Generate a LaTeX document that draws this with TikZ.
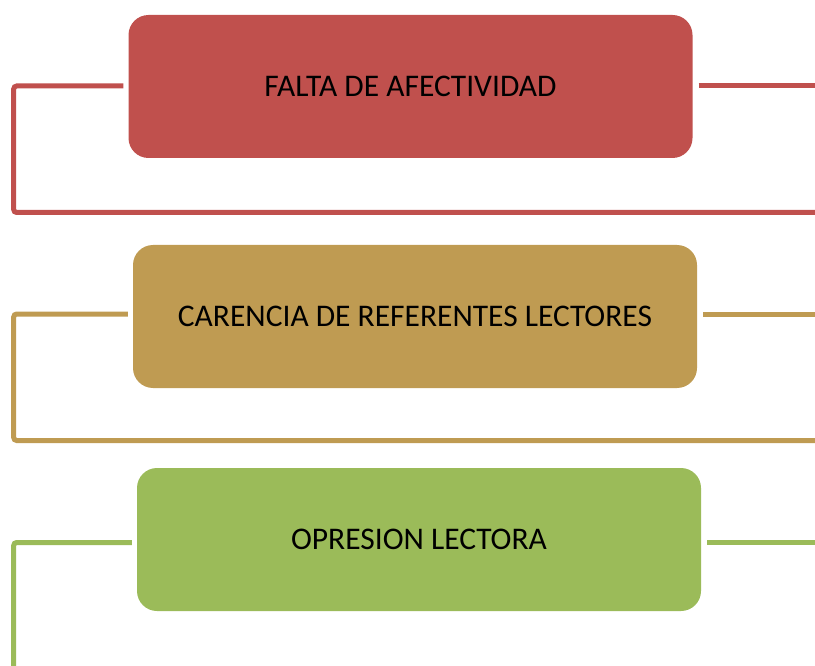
\documentclass[tikz,border=0pt]{standalone}
\usepackage{fontspec}
\setmainfont{Carlito}
\usepackage{xcolor}
\usetikzlibrary{positioning}

\definecolor{redBox}{HTML}{C0504D}
\definecolor{goldBox}{HTML}{BF9B52}
\definecolor{greenBox}{HTML}{9BBB59}

\begin{document}
\begin{tikzpicture}[x=1pt, y=-1pt]
        \tikzset{BoxStyle/.style={rounded corners=20pt, minimum width=564pt,
                   minimum height=143pt, inner sep=0pt, font=\fontsize{31.5}{36}\selectfont},
                 LineStyle/.style={line width=5pt, rounded corners=3pt}}   % connector lines

        \useasboundingbox (0,0) rectangle (815,666);

        \node[BoxStyle, fill=redBox]   (afect) at (410.5,86.5) {FALTA DE AFECTIVIDAD};
        \node[BoxStyle, fill=goldBox]  (refer) at (415,316.5) {CARENCIA DE REFERENTES LECTORES};
        \node[BoxStyle, fill=greenBox] (opres) at (419,539.5) {OPRESION LECTORA};

        \coordinate (afectL) at (13.7,86);
        \coordinate (afectB) at (830,212.5);
        \coordinate (afectR) at (830,86);
        \coordinate (referL) at (13.7,314);
        \coordinate (referB) at (830,440.5);
        \coordinate (referR) at (830,314);
        \coordinate (opresL) at (13.7,542.5);
        \coordinate (opresB) at (13.7,680);
        \coordinate (opresR) at (830,542.5);

        \draw[LineStyle, redBox] ([xshift=-5pt, yshift=0.5pt]afect.west) -- (afectL) |- (afectB);
        \draw[LineStyle, redBox] ([xshift=6pt, yshift=0.5pt]afect.east) -- (afectR);
        \draw[LineStyle, goldBox] ([xshift=-5pt, yshift=2.5pt]refer.west) -- (referL) |- (referB);
        \draw[LineStyle, goldBox] ([xshift=6pt, yshift=2.5pt]refer.east) -- (referR);
        \draw[LineStyle, greenBox] ([xshift=-5pt, yshift=-3pt]opres.west) -- (opresL) -- (opresB);
        \draw[LineStyle, greenBox] ([xshift=6pt, yshift=-3pt]opres.east) -- (opresR);

      \end{tikzpicture}
\end{document}
